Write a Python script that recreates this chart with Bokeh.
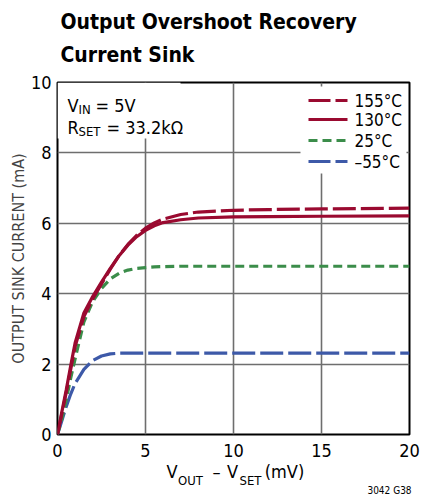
from bokeh.plotting import figure
from bokeh.models import Label, Range1d, FixedTicker, LinearAxis, Title
from bokeh.embed import file_html
from bokeh.resources import INLINE

# ---- data ----
x_mv = [0, 0.25, 0.5, 0.75, 1.0, 1.5, 2.0, 2.5, 3.0, 3.5, 4.0, 4.5, 5.0, 5.5, 6.0, 7.0, 8.0, 10.0, 12.0, 15.0, 20.0]
i_155 = [0, 0.60, 1.20, 1.85, 2.50, 3.35, 3.85, 4.28, 4.70, 5.08, 5.40, 5.66, 5.86, 6.01, 6.12, 6.25, 6.32, 6.37, 6.39, 6.41, 6.43]
i_130 = [0, 0.65, 1.28, 1.95, 2.60, 3.45, 3.92, 4.33, 4.72, 5.08, 5.38, 5.62, 5.80, 5.93, 6.02, 6.10, 6.15, 6.18, 6.19, 6.20, 6.21]
i_25 = [0, 0.45, 1.00, 1.60, 2.15, 3.20, 3.78, 4.15, 4.42, 4.58, 4.67, 4.72, 4.74, 4.76, 4.77, 4.78, 4.78, 4.78, 4.78, 4.78, 4.78]
i_m55 = [0, 0.40, 0.80, 1.15, 1.45, 1.85, 2.10, 2.23, 2.29, 2.31, 2.31, 2.31, 2.31, 2.31, 2.31, 2.31, 2.31, 2.31, 2.31, 2.31, 2.31]
series_labels = ["155°C", "130°C", "25°C", "–55°C"]
x_ticks = [0, 5, 10, 15, 20]
y_ticks = [0, 2, 4, 6, 8, 10]
title_lines = ["Output Overshoot Recovery", "Current Sink"]
y_label = "OUTPUT SINK CURRENT (mA)"
x_label_main = ["V", "–", "V", "(mV)"]
x_label_sub = ["OUT", "SET"]
fig_code = "3042 G38"

RED = "#9a0a30"
GREEN = "#3b8d4a"
BLUE = "#3d59a8"
FONT = "DejaVu Sans Condensed, Roboto, sans-serif"

W, H = 421, 498
p = figure(width=W, height=H, output_backend="svg", toolbar_location=None,
           x_range=Range1d(0, 20), y_range=Range1d(0, 10),
           min_border_left=57, min_border_right=12, min_border_top=82, min_border_bottom=64)

# page-pixel -> data / screen helpers (layout only)
def dx(px):
    return round((px - 57) / 17.6, 3)
def dy(py):
    return (434 - py) / 35.2
def sx(px):
    return px - 57
def sy(py):
    return 434 - py

p.outline_line_color = "black"
p.outline_line_width = 2
p.xgrid.ticker = FixedTicker(ticks=x_ticks)
p.ygrid.ticker = FixedTicker(ticks=y_ticks)
for g in (p.xgrid, p.ygrid):
    g.grid_line_color = "#6e6e6e"
    g.grid_line_width = 1.6

def style_axis(ax, size, tick_out=0):
    ax.axis_line_color = None
    ax.major_tick_line_color = None
    ax.minor_tick_line_color = None
    ax.major_tick_out = tick_out
    ax.major_tick_in = 0
    ax.minor_tick_out = 0
    ax.minor_tick_in = 0
    ax.major_label_text_font = FONT
    ax.major_label_text_font_size = size
    ax.major_label_text_color = "black"

p.xaxis.ticker = FixedTicker(ticks=x_ticks)
p.yaxis.ticker = FixedTicker(ticks=y_ticks)
style_axis(p.xaxis[0], "18px")
style_axis(p.yaxis[0], "18px", tick_out=0)
p.xaxis.major_label_standoff = 9
p.yaxis.major_label_standoff = 6
p.yaxis.axis_label = y_label
p.yaxis.axis_label_text_font = FONT
p.yaxis.axis_label_text_font_style = "normal"
p.yaxis.axis_label_text_font_size = "16px"
p.yaxis.axis_label_standoff = 0

# x-axis label built from extra (tick-less) axes so that subscripts sit lower
main_pos = [dx(171.5), dx(216), dx(232), dx(284)]
ax_main = LinearAxis(ticker=FixedTicker(ticks=main_pos),
                     major_label_overrides={k: t for k, t in zip(main_pos, x_label_main)})
style_axis(ax_main, "18px")
ax_main.major_label_standoff = 1
p.add_layout(ax_main, "below")

sub_pos = [dx(190), dx(250)]
ax_sub = LinearAxis(ticker=FixedTicker(ticks=sub_pos),
                    major_label_overrides={k: t for k, t in zip(sub_pos, x_label_sub)})
style_axis(ax_sub, "13px")
ax_sub.major_label_standoff = -12
p.add_layout(ax_sub, "below")

code_pos = [dx(389)]
ax_code = LinearAxis(ticker=FixedTicker(ticks=code_pos),
                     major_label_overrides={code_pos[0]: fig_code})
style_axis(ax_code, "10px")
ax_code.major_label_standoff = -6
p.add_layout(ax_code, "below")

# title (two lines; the first added sits nearest the frame)
p.add_layout(Title(text=title_lines[1], text_font=FONT, text_font_size="21px",
                   text_color="black", text_font_style="bold", align="left",
                   offset=3, standoff=31), "above")
p.add_layout(Title(text=title_lines[0], text_font=FONT, text_font_size="21px",
                   text_color="black", text_font_style="bold", align="left",
                   offset=3, standoff=-16), "above")

# white backgrounds for annotation box and legend
p.quad(left=[dx(57)], right=[dx(180)], bottom=[dy(138)], top=[dy(82)],
       fill_color="white", line_color=None)
p.quad(left=[dx(300)], right=[dx(406)], bottom=[dy(173)], top=[dy(86)],
       fill_color="white", line_color=None)

# curves
lw = 3.2
p.line(x_mv, i_m55, line_color=BLUE, line_width=lw, line_dash="23 5")
p.line(x_mv, i_25, line_color=GREEN, line_width=lw, line_dash="9 5")
p.line(x_mv, i_130, line_color=RED, line_width=lw)
p.line(x_mv, i_155, line_color=RED, line_width=lw, line_dash="23 5")

def lab(px, py, text, size, style="normal", align="left", baseline="alphabetic"):
    p.add_layout(Label(x=sx(px), y=sy(py), x_units="screen", y_units="screen",
                       text=text, text_font=FONT,
                       text_font_size=size, text_font_style=style,
                       text_align=align, text_baseline=baseline,
                       text_color="black"))

# legend (manual)
leg_rows = [100, 119, 140, 161]
leg_styles = [(RED, "22 5"), (RED, "solid"), (GREEN, "9 5"), (BLUE, "22 5")]
for py, (c, d), text in zip(leg_rows, leg_styles, series_labels):
    p.segment(x0=[dx(308)], x1=[dx(347)], y0=[dy(py)], y1=[dy(py)], line_color=c,
              line_width=lw, line_dash=d)
    lab(354, py, text, "17px", baseline="middle")

# conditions
lab(67, 105, "V", "18px")
lab(78, 109, "IN", "13px")
lab(95, 105, "= 5V", "18px")
lab(67, 127, "R", "18px")
lab(78, 131, "SET", "13px")
lab(106, 127, "= 33.2kΩ", "18px")

open("out.html", "w").write(file_html(p, INLINE))
